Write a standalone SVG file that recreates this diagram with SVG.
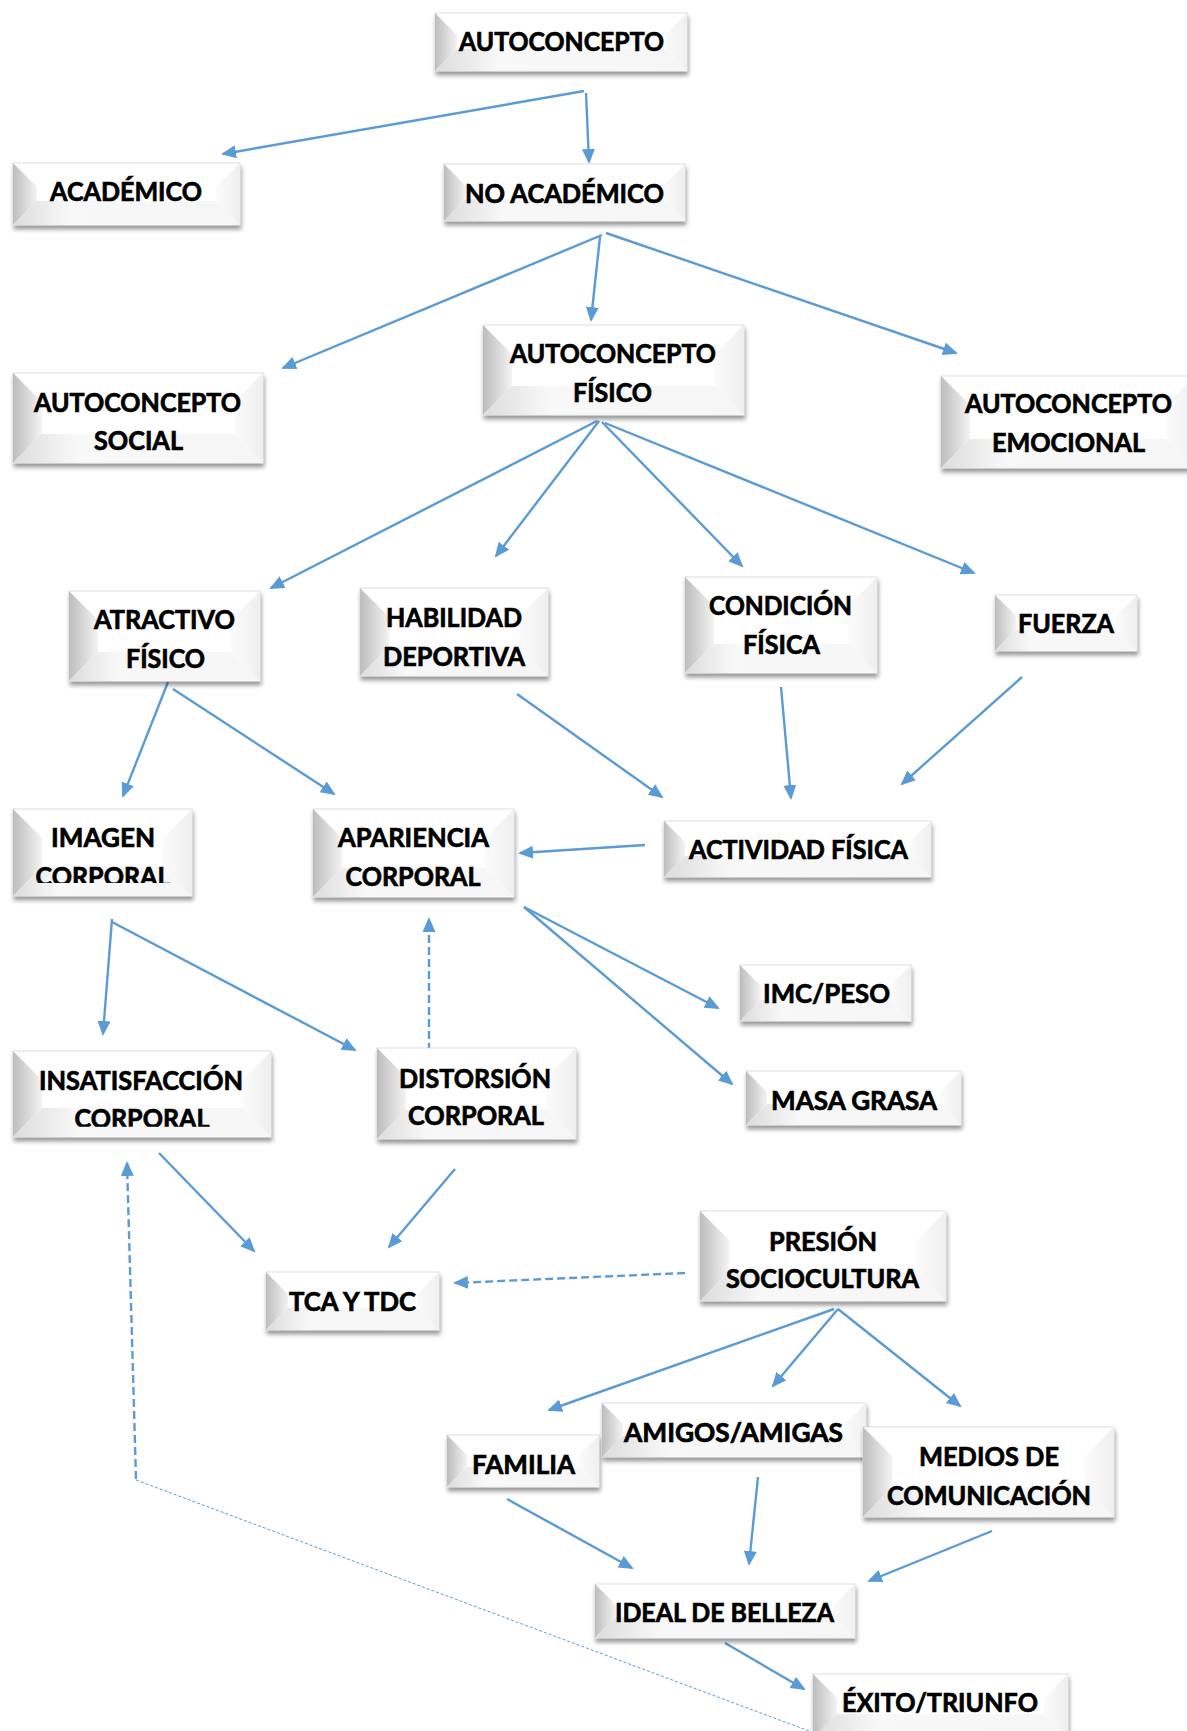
<svg xmlns="http://www.w3.org/2000/svg" width="1187" height="1731" viewBox="0 0 1187 1731">
<defs>
<style>
.b{fill:#ffffff;stroke:#d6d6d6;stroke-width:0.8;filter:url(#sh)}
.l{fill:url(#gl)}
.bt{fill:url(#gb)}
.r{fill:url(#gr)}
.t{font-family:Lato,"Open Sans","Liberation Sans",sans-serif;font-weight:bold;font-size:26.5px;fill:#000;stroke:#000;stroke-width:0.7px;text-anchor:middle}
.c{fill:none;stroke:#5B9BD5;stroke-width:2.4;marker-end:url(#ah)}
.d{stroke-dasharray:8 4}
.dt{fill:none;stroke:#5B9BD5;stroke-width:1;stroke-dasharray:3 2}
</style>
<linearGradient id="gl" x1="0" y1="0" x2="1" y2="0"><stop offset="0" stop-color="#bdbdbd"/><stop offset="1" stop-color="#f3f3f3"/></linearGradient>
<linearGradient id="gb" x1="0" y1="0" x2="1" y2="0"><stop offset="0" stop-color="#dcdcdc"/><stop offset="0.25" stop-color="#f8f8f8"/><stop offset="1" stop-color="#f6f6f6"/></linearGradient>
<linearGradient id="gr" x1="0" y1="0" x2="1" y2="0"><stop offset="0" stop-color="#fbfbfb"/><stop offset="1" stop-color="#efefef"/></linearGradient>
<filter id="sh" x="-5%" y="-10%" width="112%" height="135%"><feDropShadow dx="1" dy="4" stdDeviation="2" flood-color="#000" flood-opacity="0.4"/></filter>
<marker id="ah" markerUnits="userSpaceOnUse" markerWidth="16" markerHeight="14" refX="13" refY="6.5" orient="auto"><path d="M0,0 L15,6.5 L0,13 Z" fill="#5B9BD5"/></marker>
<clipPath id="cp1"><rect x="0" y="850" width="300" height="33"/></clipPath>
<clipPath id="cp2"><rect x="0" y="1095" width="300" height="31.8"/></clipPath>
</defs>
<rect width="1187" height="1731" fill="#ffffff"/>

<g id="connectors">
<path class="c" d="M584,91 L223,154"/>
<path class="c" d="M586,93 L589,162"/>
<path class="c" d="M602,235 L283,368"/>
<path class="c" d="M600,237 L591,320"/>
<path class="c" d="M606,233 L956,353"/>
<path class="c" d="M597,421 L271,588"/>
<path class="c" d="M599,421 L496,556"/>
<path class="c" d="M602,422 L742,566"/>
<path class="c" d="M605,423 L974,573"/>
<path class="c" d="M168,682 L123,796"/>
<path class="c" d="M173,689 L334,794"/>
<path class="c" d="M517,694 L662,797"/>
<path class="c" d="M781,687 L791,798"/>
<path class="c" d="M1022,677 L902,784"/>
<path class="c" d="M645,845 L520,853"/>
<path class="c" d="M112,919 L103,1034"/>
<path class="c" d="M112,922 L355,1050"/>
<path class="c d" d="M429,1051 L429,919"/>
<path class="c" d="M524,907 L718,1008"/>
<path class="c" d="M524,907 L732,1084"/>
<path class="c" d="M159,1153 L254,1251"/>
<path class="c" d="M455,1169 L389,1247"/>
<path class="c d" d="M685,1273 L455,1283"/>
<path class="c" d="M834,1309 L549,1410"/>
<path class="c" d="M838,1309 L773,1386"/>
<path class="c" d="M838,1309 L960,1406"/>
<path class="c" d="M507,1499 L632,1568"/>
<path class="c" d="M758,1477 L749,1564"/>
<path class="c" d="M992,1531 L869,1581"/>
<path class="c" d="M725,1643 L804,1689"/>
<path class="dt" d="M809,1731 L136,1480"/>
<path class="c d" d="M136,1479 L127,1163"/>
</g>

<g id="n1">
<rect class="b" x="435" y="13" width="252" height="58"/>
<path class="l" d="M435,13 L457,35 L457,49 L435,71 Z"/>
<path class="bt" d="M435,71 L457,49 L665,49 L687,71 Z"/>
<path class="r" d="M687,13 L665,35 L665,49 L687,71 Z"/>
<text class="t" x="561.5" y="51" textLength="205" lengthAdjust="spacingAndGlyphs">AUTOCONCEPTO</text>
</g>
<g id="n2">
<rect class="b" x="13" y="163" width="227" height="62"/>
<path class="l" d="M13,163 L37,187 L37,201 L13,225 Z"/>
<path class="bt" d="M13,225 L37,201 L216,201 L240,225 Z"/>
<path class="r" d="M240,163 L216,187 L216,201 L240,225 Z"/>
<text class="t" x="126" y="201" textLength="152" lengthAdjust="spacingAndGlyphs">ACADÉMICO</text>
</g>
<g id="n3">
<rect class="b" x="444" y="164" width="241" height="57"/>
<path class="l" d="M444,164 L466,186 L466,199 L444,221 Z"/>
<path class="bt" d="M444,221 L466,199 L663,199 L685,221 Z"/>
<path class="r" d="M685,164 L663,186 L663,199 L685,221 Z"/>
<text class="t" x="564.5" y="203" textLength="199" lengthAdjust="spacingAndGlyphs">NO ACADÉMICO</text>
</g>
<g id="n4">
<rect class="b" x="13" y="373" width="250" height="90"/>
<path class="l" d="M13,373 L42,402 L42,434 L13,463 Z"/>
<path class="bt" d="M13,463 L42,434 L234,434 L263,463 Z"/>
<path class="r" d="M263,373 L234,402 L234,434 L263,463 Z"/>
<text class="t" x="137.5" y="412" textLength="207" lengthAdjust="spacingAndGlyphs">AUTOCONCEPTO</text>
<text class="t" x="138.5" y="450" textLength="89" lengthAdjust="spacingAndGlyphs">SOCIAL</text>
</g>
<g id="n5">
<rect class="b" x="483" y="325" width="261" height="90"/>
<path class="l" d="M483,325 L512,354 L512,386 L483,415 Z"/>
<path class="bt" d="M483,415 L512,386 L715,386 L744,415 Z"/>
<path class="r" d="M744,325 L715,354 L715,386 L744,415 Z"/>
<text class="t" x="613" y="363" textLength="206" lengthAdjust="spacingAndGlyphs">AUTOCONCEPTO</text>
<text class="t" x="612.5" y="402" textLength="79" lengthAdjust="spacingAndGlyphs">FÍSICO</text>
</g>
<g id="n6">
<rect class="b" x="941" y="376" width="254" height="92"/>
<path class="l" d="M941,376 L970,405 L970,439 L941,468 Z"/>
<path class="bt" d="M941,468 L970,439 L1166,439 L1195,468 Z"/>
<path class="r" d="M1195,376 L1166,405 L1166,439 L1195,468 Z"/>
<text class="t" x="1068.5" y="413" textLength="207" lengthAdjust="spacingAndGlyphs">AUTOCONCEPTO</text>
<text class="t" x="1068.5" y="452" textLength="153" lengthAdjust="spacingAndGlyphs">EMOCIONAL</text>
</g>
<g id="n7">
<rect class="b" x="69" y="591" width="191" height="90"/>
<path class="l" d="M69,591 L98,620 L98,652 L69,681 Z"/>
<path class="bt" d="M69,681 L98,652 L231,652 L260,681 Z"/>
<path class="r" d="M260,591 L231,620 L231,652 L260,681 Z"/>
<text class="t" x="164.5" y="629" textLength="141" lengthAdjust="spacingAndGlyphs">ATRACTIVO</text>
<text class="t" x="165.5" y="668" textLength="79" lengthAdjust="spacingAndGlyphs">FÍSICO</text>
</g>
<g id="n8">
<rect class="b" x="360" y="588" width="188" height="88"/>
<path class="l" d="M360,588 L389,617 L389,647 L360,676 Z"/>
<path class="bt" d="M360,676 L389,647 L519,647 L548,676 Z"/>
<path class="r" d="M548,588 L519,617 L519,647 L548,676 Z"/>
<text class="t" x="454" y="627" textLength="136" lengthAdjust="spacingAndGlyphs">HABILIDAD</text>
<text class="t" x="454" y="666" textLength="142" lengthAdjust="spacingAndGlyphs">DEPORTIVA</text>
</g>
<g id="n9">
<rect class="b" x="685" y="577" width="192" height="96"/>
<path class="l" d="M685,577 L714,606 L714,644 L685,673 Z"/>
<path class="bt" d="M685,673 L714,644 L848,644 L877,673 Z"/>
<path class="r" d="M877,577 L848,606 L848,644 L877,673 Z"/>
<text class="t" x="780.5" y="615" textLength="143" lengthAdjust="spacingAndGlyphs">CONDICIÓN</text>
<text class="t" x="781.5" y="654" textLength="77" lengthAdjust="spacingAndGlyphs">FÍSICA</text>
</g>
<g id="n10">
<rect class="b" x="995" y="595" width="142" height="56"/>
<path class="l" d="M995,595 L1016,616 L1016,630 L995,651 Z"/>
<path class="bt" d="M995,651 L1016,630 L1116,630 L1137,651 Z"/>
<path class="r" d="M1137,595 L1116,616 L1116,630 L1137,651 Z"/>
<text class="t" x="1066" y="633" textLength="96" lengthAdjust="spacingAndGlyphs">FUERZA</text>
</g>
<g id="n11">
<rect class="b" x="13" y="809" width="179" height="87"/>
<path class="l" d="M13,809 L42,838 L42,867 L13,896 Z"/>
<path class="bt" d="M13,896 L42,867 L163,867 L192,896 Z"/>
<path class="r" d="M192,809 L163,838 L163,867 L192,896 Z"/>
<text class="t" x="103" y="847" textLength="104" lengthAdjust="spacingAndGlyphs">IMAGEN</text>
<text class="t" x="103" y="886" textLength="135" lengthAdjust="spacingAndGlyphs" clip-path="url(#cp1)">CORPORAL</text>
</g>
<g id="n12">
<rect class="b" x="313" y="809" width="201" height="88"/>
<path class="l" d="M313,809 L342,838 L342,868 L313,897 Z"/>
<path class="bt" d="M313,897 L342,868 L485,868 L514,897 Z"/>
<path class="r" d="M514,809 L485,838 L485,868 L514,897 Z"/>
<text class="t" x="413.5" y="847" textLength="151" lengthAdjust="spacingAndGlyphs">APARIENCIA</text>
<text class="t" x="413" y="886" textLength="135" lengthAdjust="spacingAndGlyphs">CORPORAL</text>
</g>
<g id="n13">
<rect class="b" x="664" y="821" width="267" height="56"/>
<path class="l" d="M664,821 L685,842 L685,856 L664,877 Z"/>
<path class="bt" d="M664,877 L685,856 L910,856 L931,877 Z"/>
<path class="r" d="M931,821 L910,842 L910,856 L931,877 Z"/>
<text class="t" x="798.5" y="859" textLength="219" lengthAdjust="spacingAndGlyphs">ACTIVIDAD FÍSICA</text>
</g>
<g id="n14">
<rect class="b" x="740" y="965" width="171" height="56"/>
<path class="l" d="M740,965 L761,986 L761,1000 L740,1021 Z"/>
<path class="bt" d="M740,1021 L761,1000 L890,1000 L911,1021 Z"/>
<path class="r" d="M911,965 L890,986 L890,1000 L911,1021 Z"/>
<text class="t" x="826.5" y="1003" textLength="127" lengthAdjust="spacingAndGlyphs">IMC/PESO</text>
</g>
<g id="n15">
<rect class="b" x="13" y="1051" width="258" height="86"/>
<path class="l" d="M13,1051 L42,1080 L42,1108 L13,1137 Z"/>
<path class="bt" d="M13,1137 L42,1108 L242,1108 L271,1137 Z"/>
<path class="r" d="M271,1051 L242,1080 L242,1108 L271,1137 Z"/>
<text class="t" x="141" y="1090" textLength="204" lengthAdjust="spacingAndGlyphs">INSATISFACCIÓN</text>
<text class="t" x="142" y="1128" textLength="135" lengthAdjust="spacingAndGlyphs" clip-path="url(#cp2)">CORPORAL</text>
</g>
<g id="n16">
<rect class="b" x="377" y="1048" width="199" height="91"/>
<path class="l" d="M377,1048 L406,1077 L406,1110 L377,1139 Z"/>
<path class="bt" d="M377,1139 L406,1110 L547,1110 L576,1139 Z"/>
<path class="r" d="M576,1048 L547,1077 L547,1110 L576,1139 Z"/>
<text class="t" x="475" y="1088" textLength="152" lengthAdjust="spacingAndGlyphs">DISTORSIÓN</text>
<text class="t" x="476" y="1125" textLength="136" lengthAdjust="spacingAndGlyphs">CORPORAL</text>
</g>
<g id="n17">
<rect class="b" x="746" y="1071" width="215" height="54"/>
<path class="l" d="M746,1071 L767,1092 L767,1104 L746,1125 Z"/>
<path class="bt" d="M746,1125 L767,1104 L940,1104 L961,1125 Z"/>
<path class="r" d="M961,1071 L940,1092 L940,1104 L961,1125 Z"/>
<text class="t" x="854" y="1110" textLength="166" lengthAdjust="spacingAndGlyphs">MASA GRASA</text>
</g>
<g id="n18">
<rect class="b" x="700" y="1211" width="246" height="90"/>
<path class="l" d="M700,1211 L729,1240 L729,1272 L700,1301 Z"/>
<path class="bt" d="M700,1301 L729,1272 L917,1272 L946,1301 Z"/>
<path class="r" d="M946,1211 L917,1240 L917,1272 L946,1301 Z"/>
<text class="t" x="823" y="1251" textLength="108" lengthAdjust="spacingAndGlyphs">PRESIÓN</text>
<text class="t" x="822.5" y="1288" textLength="193" lengthAdjust="spacingAndGlyphs">SOCIOCULTURA</text>
</g>
<g id="n19">
<rect class="b" x="266" y="1272" width="173" height="58"/>
<path class="l" d="M266,1272 L288,1294 L288,1308 L266,1330 Z"/>
<path class="bt" d="M266,1330 L288,1308 L417,1308 L439,1330 Z"/>
<path class="r" d="M439,1272 L417,1294 L417,1308 L439,1330 Z"/>
<text class="t" x="352.5" y="1311" textLength="127" lengthAdjust="spacingAndGlyphs">TCA Y TDC</text>
</g>
<g id="n20">
<rect class="b" x="447" y="1435" width="152" height="52"/>
<path class="l" d="M447,1435 L467,1455 L467,1467 L447,1487 Z"/>
<path class="bt" d="M447,1487 L467,1467 L579,1467 L599,1487 Z"/>
<path class="r" d="M599,1435 L579,1455 L579,1467 L599,1487 Z"/>
<text class="t" x="523.5" y="1474" textLength="103" lengthAdjust="spacingAndGlyphs">FAMILIA</text>
</g>
<g id="n21">
<rect class="b" x="602" y="1403" width="264" height="54"/>
<path class="l" d="M602,1403 L623,1424 L623,1436 L602,1457 Z"/>
<path class="bt" d="M602,1457 L623,1436 L845,1436 L866,1457 Z"/>
<path class="r" d="M866,1403 L845,1424 L845,1436 L866,1457 Z"/>
<text class="t" x="733.5" y="1442" textLength="219" lengthAdjust="spacingAndGlyphs">AMIGOS/AMIGAS</text>
</g>
<g id="n22">
<rect class="b" x="863" y="1427" width="251" height="90"/>
<path class="l" d="M863,1427 L892,1456 L892,1488 L863,1517 Z"/>
<path class="bt" d="M863,1517 L892,1488 L1085,1488 L1114,1517 Z"/>
<path class="r" d="M1114,1427 L1085,1456 L1085,1488 L1114,1517 Z"/>
<text class="t" x="989" y="1466" textLength="140" lengthAdjust="spacingAndGlyphs">MEDIOS DE</text>
<text class="t" x="989" y="1505" textLength="204" lengthAdjust="spacingAndGlyphs">COMUNICACIÓN</text>
</g>
<g id="n23">
<rect class="b" x="595" y="1584" width="260" height="54"/>
<path class="l" d="M595,1584 L616,1605 L616,1617 L595,1638 Z"/>
<path class="bt" d="M595,1638 L616,1617 L834,1617 L855,1638 Z"/>
<path class="r" d="M855,1584 L834,1605 L834,1617 L855,1638 Z"/>
<text class="t" x="724.5" y="1622" textLength="219" lengthAdjust="spacingAndGlyphs">IDEAL DE BELLEZA</text>
</g>
<g id="n24">
<rect class="b" x="813" y="1674" width="255" height="64"/>
<path class="l" d="M813,1674 L837,1698 L837,1714 L813,1738 Z"/>
<path class="bt" d="M813,1738 L837,1714 L1044,1714 L1068,1738 Z"/>
<path class="r" d="M1068,1674 L1044,1698 L1044,1714 L1068,1738 Z"/>
<text class="t" x="940" y="1712" textLength="196" lengthAdjust="spacingAndGlyphs">ÉXITO/TRIUNFO</text>
</g>
</svg>
